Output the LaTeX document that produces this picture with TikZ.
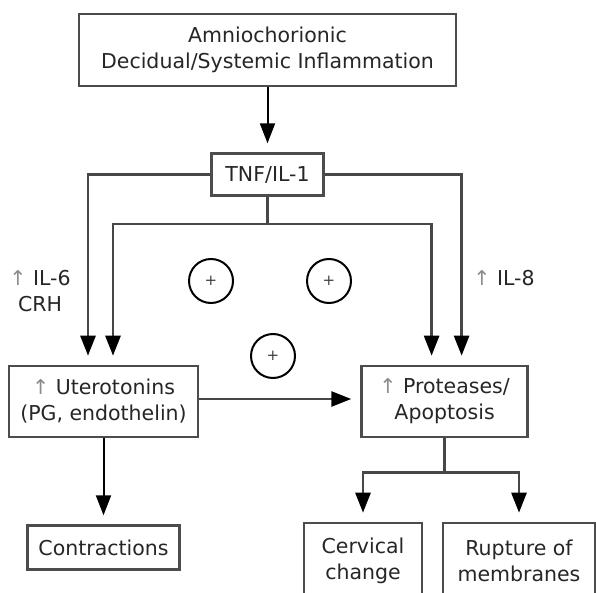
\documentclass[tikz,border=0pt]{standalone}
\usepackage{fontspec}
\setmainfont{DejaVu Sans}
\usetikzlibrary{arrows.meta, positioning}

\begin{document}
\begin{tikzpicture}[
  x=1pt, y=1pt,
  font=\fontsize{20.5}{26}\selectfont,
  box/.style={
    rectangle, draw=black!70, line width=2.6pt,
    inner sep=0pt, align=center, text=black!85
  },
  plus/.style={
    circle, draw=black, line width=2pt,
    minimum size=44pt, inner sep=0pt,
    font=\fontsize{15}{15}\selectfont, text=black!75
  },
  note/.style={align=center, text=black!85},
  arr/.style={-{Triangle[length=20pt,width=15pt,color=black]}, line width=2.6pt,
    draw=black!72, shorten >=9pt},
  darr/.style={arr, draw=black, line width=2pt},
  link/.style={line width=2.6pt, draw=black!72}
]
  \fill[white] (0,0) rectangle (596,-593);
  \useasboundingbox (0,0) rectangle (596,-593);
  \clip (0,0) rectangle (596,-593);

  \node[box, minimum width=377pt, minimum height=72pt] (inflam) at (267.5,-50)
    {Amniochorionic\\Decidual/Systemic Inflammation};
  \node[box, minimum width=112pt, minimum height=42pt, below=65pt of inflam] (tnf)
    {TNF/IL-1};

  \node[box, minimum width=189pt, minimum height=71pt] (utero) at (103.5,-401.5)
    {{\color{black!45}↑} Uterotonins\\(PG, endothelin)};
  \node[box, minimum width=166pt, minimum height=71pt, right=161pt of utero] (protease)
    {{\color{black!45}↑} Proteases/\\Apoptosis};

  \node[box, minimum width=152pt, minimum height=44pt, below=86pt of utero] (contract)
    {Contractions};
  \node[box, minimum width=118pt, minimum height=75pt] (cervix) at (363,-560.5)
    {Cervical\\change};
  \node[box, minimum width=152pt, minimum height=75pt] (rupture) at (519,-560.5)
    {Rupture of\\membranes};

  % cytokine labels
  \node[note] (il6) at (40,-291) {{\color{black!45}↑} IL-6\\CRH};
  \node[note] (il8) at (504,-278) {{\color{black!45}↑} IL-8};

  \node[plus] (plusa) at (211,-281) {+};
  \node[plus] (plusb) at (329,-281) {+};
  \node[plus] (plusc) at (273,-356) {+};

  \coordinate (split) at ([yshift=-27pt]tnf.south);
  \coordinate (fork) at ([yshift=-34pt]protease.south);

  \draw[darr] (inflam) -- (tnf);
  \draw[arr] (tnf.west) -| ([xshift=-15.5pt]utero.north);
  \draw[arr] (tnf.east) -| ([xshift=17pt]protease.north);
  \draw[link] (tnf.south) -- (split);
  \draw[arr] (split) -| ([xshift=9.5pt]utero.north);
  \draw[arr] (split) -| ([xshift=-13pt]protease.north);
  \draw[arr] ([yshift=2.5pt]utero.east) -- ([yshift=2.5pt]utero.east -| protease.west);

  \draw[darr] (utero) -- (contract);
  \draw[link] (protease.south) -- (fork);
  \draw[arr] (fork) -| (cervix.north);
  \draw[arr] (fork) -| (rupture.north);
\end{tikzpicture}
\end{document}
